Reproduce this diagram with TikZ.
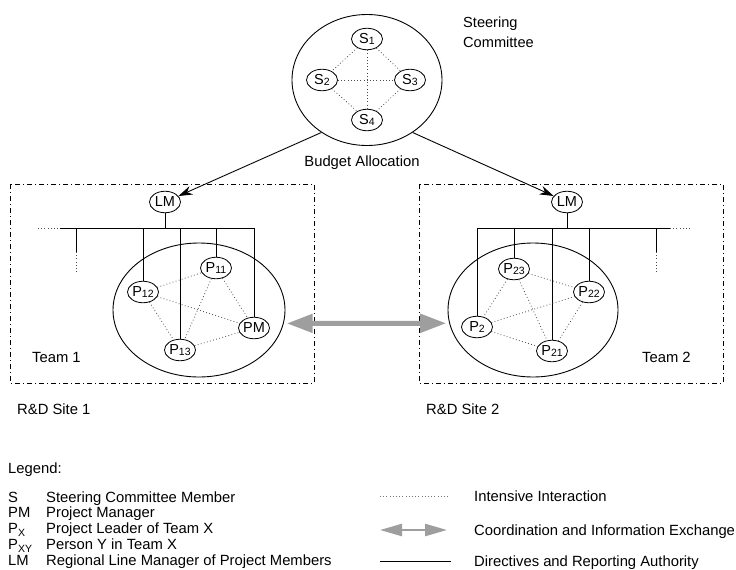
\documentclass[tikz,border=0pt]{standalone}
\usepackage{fontspec}
\setmainfont{Liberation Sans}
\usetikzlibrary{shapes.geometric,arrows.meta}

% small index digits inside the member ellipses
\newcommand{\idx}[1]{\raisebox{-1pt}{\fontsize{10.5}{10.5}\selectfont#1}}
% lowered subscript letters in the legend
\newcommand{\lsub}[1]{\raisebox{-3.5pt}{\fontsize{10.5}{10.5}\selectfont#1}}

\begin{document}
\begin{tikzpicture}[x=1pt,y=-1pt,
  font=\fontsize{14.8}{17}\selectfont,
  member/.style={draw,ellipse,line width=0.8pt,inner sep=0pt,
    minimum width=31pt,minimum height=21.5pt,fill=white,
    font=\fontsize{14.5}{17}\selectfont},
  teamring/.style={draw,ellipse,line width=0.9pt,inner sep=0pt},
  sitebox/.style={draw,line width=0.8pt,dash pattern=on 5pt off 3pt on 1pt off 3pt},
  interact/.style={line width=0.8pt,black!70,dash pattern=on 0.8pt off 2.4pt},
  authority/.style={line width=0.9pt},
  exchange/.style={line width=5pt,black!38,
    {Triangle[length=26pt,width=18pt]}-{Triangle[length=26pt,width=18pt]}},
  smallexchange/.style={line width=2.5pt,black!38,
    {Triangle[length=22pt,width=12pt]}-{Triangle[length=22pt,width=12pt]}},
  budget/.style={line width=0.9pt,-{Stealth[length=14pt,width=9pt]}},
  txt/.style={anchor=west,inner sep=0pt},
  btxt/.style={anchor=base west,inner sep=0pt}
]
\useasboundingbox (0,0) rectangle (736,570);

% ---------------- steering committee ----------------
\node[teamring,minimum width=150pt,minimum height=131pt] (steer) at (367,80) {};
\node[member] (s1) at (367,39) {S\idx{1}};
\node[member] (s2) at (322,80) {S\idx{2}};
\node[member] (s3) at (410,80) {S\idx{3}};
\node[member] (s4) at (367,120) {S\idx{4}};
\draw[interact] (s1) -- (s2);
\draw[interact] (s1) -- (s3);
\draw[interact] (s2) -- (s4);
\draw[interact] (s3) -- (s4);
\draw[interact] (s1) -- (s4);
\draw[interact] (s2) -- (s3);
\node[txt,align=left,font=\fontsize{14.6}{20}\selectfont] (sctitle) at (463,32) {Steering\\Committee};
\node[inner sep=0pt] (budgetlbl) at (362,163) {Budget Allocation};

% ---------------- site 1 ----------------
\draw[sitebox] (10,184) rectangle (314,383);
\node[teamring,minimum width=172pt,minimum height=134pt] (team1) at (199,310) {};
\node[member] (lm1) at (165,202) {LM};
\node[member] (p11) at (216,268) {P\idx{11}};
\node[member] (p12) at (143,292) {P\idx{12}};
\node[member] (p13) at (180,350) {P\idx{13}};
\node[member] (pm) at (254,328) {PM};
\coordinate (bus1L) at (60,228);
\coordinate (bus1R) at (254,228);
\coordinate (bus1D) at (38,228);
\coordinate (stub1T) at (76,228);
\coordinate (stub1M) at (76,252);
\coordinate (stub1B) at (76,272);
\draw[authority] (bus1L) -- (bus1R);
\draw[interact] (bus1D) -- (bus1L);
\draw[authority] (stub1T) -- (stub1M);
\draw[interact] (stub1M) -- (stub1B);
\draw[authority] (lm1) -- (lm1 |- bus1L);
\draw[authority] (p12 |- bus1L) -- (p12);
\draw[authority] (p13 |- bus1L) -- (p13);
\draw[authority] (p11 |- bus1L) -- (p11);
\draw[authority] (pm |- bus1L) -- (pm);
\draw[interact] (p12) -- (p11);
\draw[interact] (p12) -- (pm);
\draw[interact] (p12) -- (p13);
\draw[interact] (p11) -- (p13);
\draw[interact] (p11) -- (pm);
\draw[interact] (p13) -- (pm);
\node[txt] (team1lbl) at (32,357) {Team 1};
\node[txt] (site1lbl) at (17,409) {R\&D Site 1};

% ---------------- site 2 ----------------
\draw[sitebox] (419,184) rectangle (723,383);
\node[teamring,minimum width=170pt,minimum height=134pt] (team2) at (533,310) {};
\node[member] (lm2) at (567,202) {LM};
\node[member] (p23) at (514,269) {P\idx{23}};
\node[member] (p22) at (589,292) {P\idx{22}};
\node[member] (p21) at (552,351) {P\idx{21}};
\node[member] (p2) at (477,327) {P\idx{2}};
\coordinate (bus2L) at (477,228);
\coordinate (bus2R) at (670,228);
\coordinate (bus2D) at (692,228);
\coordinate (stub2T) at (656,228);
\coordinate (stub2M) at (656,252);
\coordinate (stub2B) at (656,272);
\draw[authority] (bus2L) -- (bus2R);
\draw[interact] (bus2R) -- (bus2D);
\draw[authority] (stub2T) -- (stub2M);
\draw[interact] (stub2M) -- (stub2B);
\draw[authority] (lm2) -- (lm2 |- bus2L);
\draw[authority] (p2 |- bus2L) -- (p2);
\draw[authority] (p23 |- bus2L) -- (p23);
\draw[authority] (p21 |- bus2L) -- (p21);
\draw[authority] (p22 |- bus2L) -- (p22);
\draw[interact] (p23) -- (p22);
\draw[interact] (p23) -- (p2);
\draw[interact] (p23) -- (p21);
\draw[interact] (p2) -- (p22);
\draw[interact] (p2) -- (p21);
\draw[interact] (p22) -- (p21);
\node[txt] (team2lbl) at (642,357) {Team 2};
\node[txt] (site2lbl) at (426,409) {R\&D Site 2};

% ---------------- links between the parts ----------------
\draw[budget] (steer.229) -- (lm1);
\draw[budget] (steer.311) -- (lm2);
\draw[exchange,shorten <=3pt,shorten >=3pt] (team1.-9) -- (team2.189);

% ---------------- legend ----------------
\node[txt] (legendlbl) at (8,470) {Legend:};
\node[btxt] (k1) at (8,502) {S};
\node[btxt] (k2) at (8,517) {PM};
\node[btxt] (k3) at (8,533) {P\lsub{X}};
\node[btxt] (k4) at (8,549) {P\lsub{XY}};
\node[btxt] (k5) at (8,565) {LM};
\node[btxt] (d1) at (46,502) {Steering Committee Member};
\node[btxt] (d2) at (46,517) {Project Manager};
\node[btxt] (d3) at (46,533) {Project Leader of Team X};
\node[btxt] (d4) at (46,549) {Person Y in Team X};
\node[btxt] (d5) at (46,565) {Regional Line Manager of Project Members};

\coordinate (l1a) at (380,496);
\coordinate (l1b) at (450,496);
\coordinate (l2a) at (380,530);
\coordinate (l2b) at (447,530);
\coordinate (l3a) at (380,561);
\coordinate (l3b) at (451,561);
\draw[interact,black!55] (l1a) -- (l1b);
\draw[smallexchange] (l2a) -- (l2b);
\draw[authority] (l3a) -- (l3b);
\node[btxt] (e1) at (474,501) {Intensive Interaction};
\node[btxt] (e2) at (474,535) {Coordination and Information Exchange};
\node[btxt] (e3) at (474,566) {Directives and Reporting Authority};
\end{tikzpicture}
\end{document}
